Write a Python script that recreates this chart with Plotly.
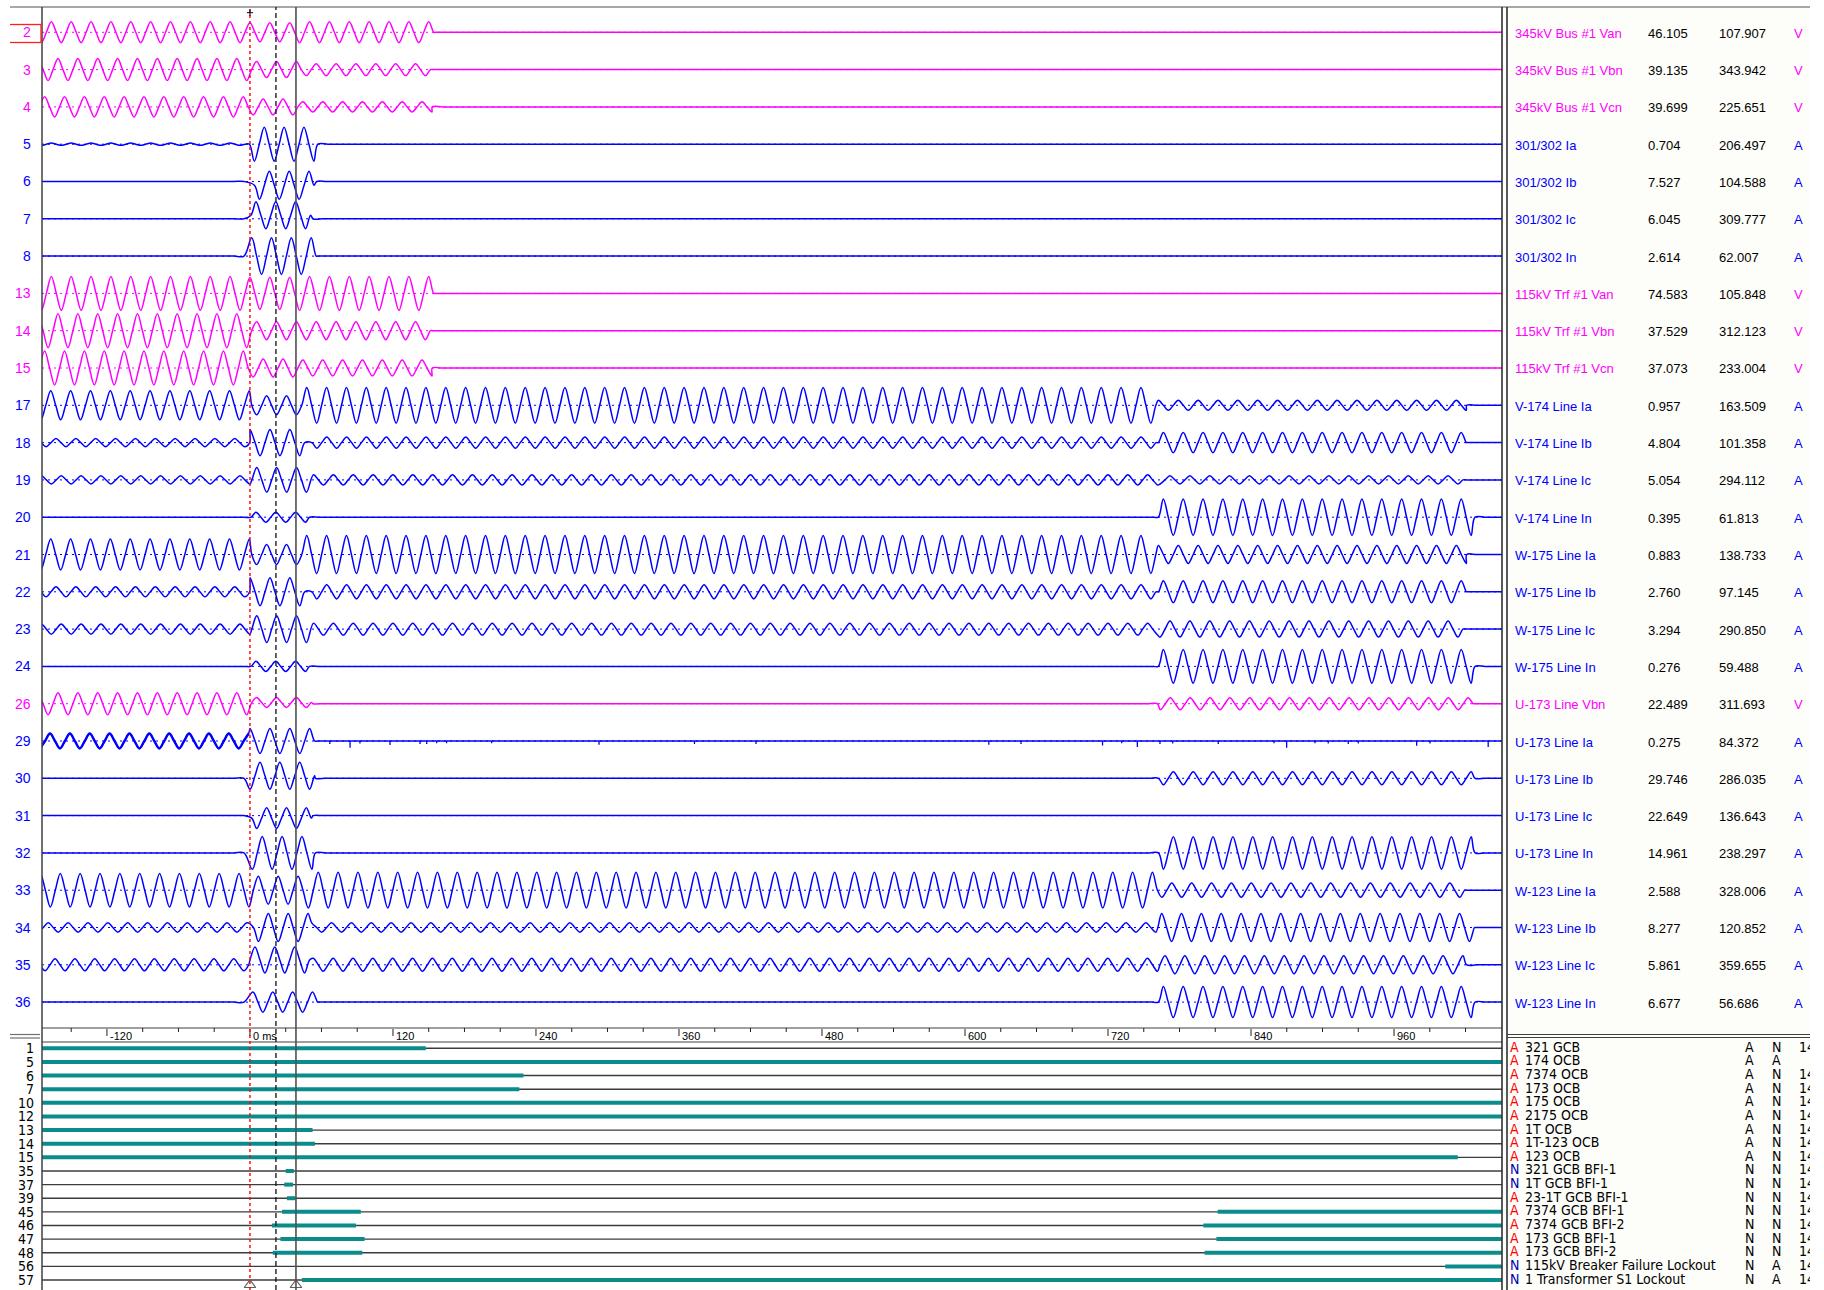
import math
import plotly.graph_objects as go

FIG_W, FIG_H = 1824, 1290
FREQ_HZ = 60.0
T_FIRST, T_LAST = -174.5, 1050.6          # visible record window (ms)

MAGENTA = "#FF00FF"
BLUE = "#0000FF"
TEAL = "#0A8C8C"

# ---------------- analog channels ----------------
chan_numbers = [2, 3, 4, 5, 6, 7, 8, 13, 14, 15, 17, 18, 19, 20, 21, 22, 23, 24,
                26, 29, 30, 31, 32, 33, 34, 35, 36]
chan_names = ["345kV Bus #1 Van", "345kV Bus #1 Vbn", "345kV Bus #1 Vcn",
              "301/302 Ia", "301/302 Ib", "301/302 Ic", "301/302 In",
              "115kV Trf #1 Van", "115kV Trf #1 Vbn", "115kV Trf #1 Vcn",
              "V-174 Line Ia", "V-174 Line Ib", "V-174 Line Ic", "V-174 Line In",
              "W-175 Line Ia", "W-175 Line Ib", "W-175 Line Ic", "W-175 Line In",
              "U-173 Line Vbn", "U-173 Line Ia", "U-173 Line Ib", "U-173 Line Ic",
              "U-173 Line In", "W-123 Line Ia", "W-123 Line Ib", "W-123 Line Ic",
              "W-123 Line In"]
chan_magnitude = ["46.105", "39.135", "39.699", "0.704", "7.527", "6.045", "2.614",
                  "74.583", "37.529", "37.073", "0.957", "4.804", "5.054", "0.395",
                  "0.883", "2.760", "3.294", "0.276", "22.489", "0.275", "29.746",
                  "22.649", "14.961", "2.588", "8.277", "5.861", "6.677"]
chan_angle = ["107.907", "343.942", "225.651", "206.497", "104.588", "309.777", "62.007",
              "105.848", "312.123", "233.004", "163.509", "101.358", "294.112", "61.813",
              "138.733", "97.145", "290.850", "59.488", "311.693", "84.372", "286.035",
              "136.643", "238.297", "328.006", "120.852", "359.655", "56.686"]
chan_units = ["V", "V", "V", "A", "A", "A", "A", "V", "V", "V", "A", "A", "A", "A",
              "A", "A", "A", "A", "V", "A", "A", "A", "A", "A", "A", "A", "A"]

# waveform segments: (from ms, to ms, peak amplitude in channel heights, time of a positive peak ms, offset)
seg_2 = [(-180, 0, .28, 0, 0), (0, 38, .255, 0, 0), (38, 155, .28, 0, 0), (155, 1056, 0, 0, 0)]
seg_3 = [(-180, 0, .295, 5.6, 0), (0, 40, .215, 5.6, 0), (40, 153, .16, 5.6, 0), (153, 1056, 0, 0, 0)]
seg_4 = [(-180, 0, .27, -5.6, 0), (0, 40, .215, -5.6, 0), (40, 153, .135, -5.6, 0), (153, 1056, 0, 0, 0)]
seg_5 = [(-180, -1, .03, 0, 0), (-1, 57, .455, 12, 0), (57, 1056, 0, 0, 0)]
seg_6 = [(-180, 0, 0, 0, 0), (0, 56, .375, -0.4, -.1), (56, 1056, 0, 0, 0)]
seg_7 = [(-180, 0, 0, 0, 0), (0, 53, .36, 5, .095), (53, 1056, 0, 0, 0)]
seg_8 = [(-180, 0, 0, 0, 0), (0, 57, .49, 1.4, 0), (57, 1056, 0, 0, 0)]
seg_13 = [(-180, 0, .455, 0, 0), (0, 40, .43, 0, 0), (40, 156, .455, 0, 0), (156, 1056, 0, 0, 0)]
seg_14 = [(-180, 0, .455, 5.6, 0), (0, 40, .24, 5.6, 0), (40, 153, .24, 5.6, 0), (153, 1056, 0, 0, 0)]
seg_15 = [(-180, 0, .455, -5.6, 0), (0, 40, .24, -5.6, 0), (40, 153, .215, -5.6, 0), (153, 1056, 0, 0, 0)]
seg_17 = [(-180, 0, .39, -0.5, 0), (0, 42, .255, 14, 0), (42, 762, .48, 14.3, 0),
          (762, 1021, .135, 12.3, 0), (1021, 1056, 0, 0, 0)]
seg_18 = [(-180, 0, .11, 3.9, 0), (0, 50, .35, 16.8, 0), (50, 762, .15, 14.4, 0),
          (762, 1021, .27, 766.4, 0), (1021, 1056, 0, 0, 0)]
seg_19 = [(-180, 0, .11, 8.3, 0), (0, 50, .33, 22.4, 0), (50, 762, .135, 3.3, 0),
          (762, 1021, .11, 772, 0), (1021, 1056, 0, 0, 0)]
seg_20 = [(-180, 0, 0, 0, 0), (0, 50, .135, 5, 0), (50, 762, 0, 0, 0),
          (762, 1028, .49, 766.4, 0), (1028, 1056, 0, 0, 0)]
seg_21 = [(-180, 0, .415, -0.5, 0), (0, 42, .27, 14, 0), (42, 762, .51, 14.3, 0),
          (762, 1021, .24, 12.3, 0), (1021, 1056, 0, 0, 0)]
seg_22 = [(-180, 0, .135, 3.9, 0), (0, 50, .375, 16.8, 0), (50, 762, .19, 14.4, 0),
          (762, 1021, .295, 766.4, 0), (1021, 1056, 0, 0, 0)]
seg_23 = [(-180, 0, .135, 8.3, 0), (0, 50, .36, 22.4, 0), (50, 762, .16, 3.3, 0),
          (762, 1021, .215, 772, 0), (1021, 1056, 0, 0, 0)]
seg_24 = [(-180, 0, 0, 0, 0), (0, 50, .135, 5, 0), (50, 762, 0, 0, 0),
          (762, 1028, .45, 766.4, 0), (1028, 1056, 0, 0, 0)]
seg_26 = [(-180, 0, .295, 5.6, 0), (0, 53, .135, 5.6, .03), (53, 762, 0, 0, 0),
          (762, 1028, .16, 5.6, 0), (1028, 1056, 0, 0, 0)]
seg_29 = [(-180, 0, .2, -1.1, 0), (0, 57, .335, 0.1, 0), (57, 1056, 0, 0, 0)]
seg_30 = [(-180, 0, 0, 0, 0), (0, 55, .36, 8.4, .067), (55, 762, 0, 0, 0),
          (762, 1028, .175, 774.8, 0), (1028, 1056, 0, 0, 0)]
seg_31 = [(-180, 0, 0, 0, 0), (0, 53, .28, 14, -.067), (53, 1056, 0, 0, 0)]
seg_32 = [(-180, 0, 0, 0, 0), (0, 55, .44, 10.3, 0), (55, 762, 0, 0, 0),
          (762, 1028, .435, 774.8, 0), (1028, 1056, 0, 0, 0)]
seg_33 = [(-180, 0, .45, 7.5, 0), (0, 45, .375, 7, 0), (45, 762, .48, 7.3, 0),
          (762, 1021, .19, 773.5, 0), (1021, 1056, 0, 0, 0)]
seg_34 = [(-180, 0, .125, 14.1, 0), (0, 50, .375, 15.4, 0), (50, 762, .125, 1.8, 0),
          (762, 1028, .375, 765, 0), (1028, 1056, 0, 0, 0)]
seg_35 = [(-180, 0, .16, 3.1, 0), (0, 52, .35, 4.2, .13), (52, 762, .175, 3.1, 0),
          (762, 1021, .24, 767.8, 0), (1021, 1056, 0, 0, 0)]
seg_36 = [(-180, 0, 0, 0, 0), (0, 57, .27, 2.5, 0), (57, 762, 0, 0, 0),
          (762, 1028, .415, 766.4, 0), (1028, 1056, 0, 0, 0)]

chan_segments = [seg_2, seg_3, seg_4, seg_5, seg_6, seg_7, seg_8, seg_13, seg_14, seg_15,
                 seg_17, seg_18, seg_19, seg_20, seg_21, seg_22, seg_23, seg_24, seg_26,
                 seg_29, seg_30, seg_31, seg_32, seg_33, seg_34, seg_35, seg_36]

# channels whose pre-fault record is noisy and drawn heavier
heavy_prefault = [29]

# single-sample glitches on U-173 Line Ia after the fault (ms, depth in channel heights)
spike_t_29 = [67, 84, 92.3, 117.5, 142.7, 148.3, 156.7, 165, 202.8, 292.9, 373, 424.6,
              620, 647, 715.4, 731.5, 744.6, 763.6, 774.3, 812.5, 859.3, 869.9, 893.7,
              904.8, 921.6, 930, 979, 990.2, 1039]
spike_d_29 = [.08, .18, .07, .11, .08, .08, .06, .06, .06, .1, .08, .08, .1, .08, .12, .06,
              .16, .08, .07, .08, .06, .18, .06, .07, .08, .07, .13, .07, .16]

# ---------------- digital channels ----------------
dig_numbers = ["1", "5", "6", "7", "10", "12", "13", "14", "15", "35", "37", "39",
               "45", "46", "47", "48", "56", "57"]
dig_normal = ["A", "A", "A", "A", "A", "A", "A", "A", "A", "N", "N", "A",
              "A", "A", "A", "A", "N", "N"]
dig_names = ["321 GCB", "174 OCB", "7374 OCB", "173 OCB", "175 OCB", "2175 OCB", "1T OCB",
             "1T-123 OCB", "123 OCB", "321 GCB BFI-1", "1T GCB BFI-1", "23-1T GCB BFI-1",
             "7374 GCB BFI-1", "7374 GCB BFI-2", "173 GCB BFI-1", "173 GCB BFI-2",
             "115kV Breaker Failure Lockout", "1 Transformer S1 Lockout"]
dig_col1 = ["A", "A", "A", "A", "A", "A", "A", "A", "A", "N", "N", "N", "N", "N", "N", "N", "N", "N"]
dig_col2 = ["N", "A", "N", "N", "N", "N", "N", "N", "N", "N", "N", "N", "N", "N", "N", "N", "A", "A"]
dig_col3 = ["14", "", "14", "14", "14", "14", "14", "14", "14", "14", "14", "14",
            "14", "14", "14", "14", "14", "14"]
# intervals (ms) where each contact is picked up
dig_on = [[(T_FIRST, 147.5)], [(T_FIRST, T_LAST)], [(T_FIRST, 229.5)], [(T_FIRST, 226)],
          [(T_FIRST, T_LAST)], [(T_FIRST, T_LAST)], [(T_FIRST, 52.5)], [(T_FIRST, 54.5)],
          [(T_FIRST, 1013.5)], [(30, 36.8)], [(28.8, 36.2)], [(31, 37.8)],
          [(26.9, 93), (812, T_LAST)], [(18.5, 88.9), (800, T_LAST)],
          [(25.6, 96.2), (811, T_LAST)], [(19.2, 94.3), (801, T_LAST)],
          [(1003, T_LAST)], [(43.6, T_LAST)]]

# cursors and time ticks
CURSOR_TRIG, CURSOR_B, CURSOR_C = 0.0, 21.8, 38.6
major_ticks = [-120, 0, 120, 240, 360, 480, 600, 720, 840, 960]
major_labels = ["-120", "0 ms", "120", "240", "360", "480", "600", "720", "840", "960"]
minor_ticks = [t for t in range(-150, 1050, 30) if t % 120 != 0]

# ---------------- screen layout (pixels) ----------------
PLOT_L, PLOT_R = 42, 1502
ANA_TOP, ANA_BOT = 7, 1028
STRIP_BOT = 1042
ROW0, ROW_STEP = 32.3, 37.3
DIG_ROW0, DIG_STEP = 1048.3, 13.63
PANEL_L, PANEL_R = 1507, 1810
SANS = "Liberation Sans, Arial, sans-serif"
NARROW = "Liberation Sans Narrow, DejaVu Sans Condensed, Arial Narrow, sans-serif"


def px(x):
    return x / FIG_W


def py(y):
    return 1 - y / FIG_H


def expand(segments):
    """Quarter-cycle points (peak, zero, trough, zero) for each segment."""
    q = 1000.0 / FREQ_HZ / 4.0
    xs, ys = [], []
    for t0, t1, amp, tpk, off in segments:
        if amp == 0:
            t = t0
            while t < t1:
                xs.append(t)
                ys.append(off)
                t += 2 * q
        else:
            n = math.ceil((t0 - tpk) / q)
            while tpk + n * q < t1:
                xs.append(tpk + n * q)
                ys.append(off + amp * (1, 0, -1, 0)[n % 4])
                n += 1
    xs.append(segments[-1][1])
    ys.append(segments[-1][4])
    return xs, ys


fig = go.Figure()
shapes, annos = [], []

# panel background and frame
shapes.append(dict(type="rect", xref="paper", yref="paper", x0=px(PANEL_L), x1=px(PANEL_R),
                   y0=0, y1=py(ANA_TOP), fillcolor="#FDFDF9", line_width=0, layer="below"))


def hline(y, x0, x1, color="#404040", width=1.0):
    shapes.append(dict(type="line", xref="paper", yref="paper", x0=px(x0), x1=px(x1),
                       y0=py(y), y1=py(y), line=dict(color=color, width=width)))


def vline(x, y0, y1, color="#404040", width=1.0):
    shapes.append(dict(type="line", xref="paper", yref="paper", x0=px(x), x1=px(x),
                       y0=py(y0), y1=py(y1), line=dict(color=color, width=width)))


hline(ANA_TOP, 10, PANEL_R, "#505050", 1.2)
hline(ANA_BOT, PLOT_L, PLOT_R, "#404040", 1.2)
hline(STRIP_BOT, PLOT_L, PLOT_R, "#404040", 1.2)
hline(1034.5, PANEL_L, PANEL_R, "#404040", 1.2)
hline(1037.5, PANEL_L, PANEL_R, "#404040", 1.2)
hline(1034.5, 10, 40, "#707070", 1.2)
hline(1038, 10, 40, "#707070", 1.2)
vline(PLOT_L, ANA_TOP, FIG_H, "#404040", 1.5)
vline(PLOT_R, ANA_TOP, FIG_H, "#303030", 1.6)
vline(PANEL_L, ANA_TOP, FIG_H, "#303030", 1.6)

# selected-channel marker around "2"
hline(24.5, 10, 41, "#FF2020", 1.3)
hline(42.5, 10, 41, "#FF2020", 1.3)
vline(41, 24.5, 42.5, "#FF2020", 1.3)

# analog traces
for k, (num, segs, unit) in enumerate(zip(chan_numbers, chan_segments, chan_units)):
    color = MAGENTA if unit == "V" else BLUE
    shapes.append(dict(type="line", xref="x", yref="y", x0=T_FIRST, x1=T_LAST, y0=-k, y1=-k,
                       line=dict(color=color, width=1, dash="2px,4px"), layer="below"))
    ts, vs = expand(segs)
    fig.add_trace(go.Scatter(x=ts, y=[-k + v for v in vs], mode="lines",
                             line=dict(color=color, width=1.5, shape="spline", smoothing=1.0),
                             hoverinfo="skip", showlegend=False, xaxis="x", yaxis="y"))
    if num in heavy_prefault:
        hs, hv = expand(segs[:1])
        fig.add_trace(go.Scatter(x=hs[:-1], y=[-k + v for v in hv[:-1]], mode="lines",
                                 line=dict(color=color, width=2.4, shape="spline", smoothing=1.0),
                                 hoverinfo="skip", showlegend=False, xaxis="x", yaxis="y"))
    annos.append(dict(x=px(33), xref="paper", y=-k, yref="y", text=str(num), showarrow=False,
                      xanchor="right", yanchor="middle",
                      font=dict(family=SANS, size=14, color=color)))
    annos.append(dict(x=px(1513), xref="paper", y=-k, yref="y", text=chan_names[k],
                      showarrow=False, xanchor="left", yanchor="middle", yshift=-1,
                      font=dict(family=SANS, size=13, color=color)))
    for xpos, txt, c in ((1646, chan_magnitude[k], "#000000"), (1717, chan_angle[k], "#000000"),
                         (1792, unit, color)):
        annos.append(dict(x=px(xpos), xref="paper", y=-k, yref="y", text=txt, showarrow=False,
                          xanchor="left", yanchor="middle", yshift=-1,
                          font=dict(family=SANS, size=13, color=c)))

# glitches on channel 29
k29 = chan_numbers.index(29)
sx, sy = [], []
for t, d in zip(spike_t_29, spike_d_29):
    sx += [t, t, None]
    sy += [-k29, -k29 - d, None]
fig.add_trace(go.Scatter(x=sx, y=sy, mode="lines", line=dict(color=BLUE, width=1.3),
                         hoverinfo="skip", showlegend=False, xaxis="x", yaxis="y"))

# time axis strip
for t in minor_ticks:
    shapes.append(dict(type="line", xref="x", yref="paper", x0=t, x1=t, y0=py(ANA_BOT),
                       y1=py(ANA_BOT + 4), line=dict(color="#202020", width=1)))
for t, lab in zip(major_ticks, major_labels):
    shapes.append(dict(type="line", xref="x", yref="paper", x0=t, x1=t, y0=py(ANA_BOT + 1),
                       y1=py(ANA_BOT + 8), line=dict(color="#202020", width=1)))
    annos.append(dict(x=t, xref="x", y=py(1035.5), yref="paper", text=lab, showarrow=False,
                      xanchor="left", yanchor="middle", xshift=2, borderpad=0,
                      font=dict(family=SANS, size=11, color="#000000")))

# digital rows
bx, by, gx, gy = [], [], [], []
for j, ivals in enumerate(dig_on):
    bx += [T_FIRST, T_LAST, None]
    by += [-j, -j, None]
    for a, b in ivals:
        gx += [a, b, None]
        gy += [-j, -j, None]
    # channel number, left of the plot
    annos.append(dict(x=px(35), xref="paper", y=-j, yref="y2", text=dig_numbers[j],
                      showarrow=False, xanchor="right", yanchor="middle", borderpad=0,
                      font=dict(family=NARROW, size=14, color="#000000")))
fig.add_trace(go.Scatter(x=bx, y=by, mode="lines", line=dict(color="#3C3C3C", width=1.4),
                         hoverinfo="skip", showlegend=False, xaxis="x2", yaxis="y2"))
fig.add_trace(go.Scatter(x=gx, y=gy, mode="lines", line=dict(color=TEAL, width=4),
                         hoverinfo="skip", showlegend=False, xaxis="x2", yaxis="y2"))

rows = [-j for j in range(len(dig_numbers))]
# digital labels panel (clipped at the panel edge)
label_cols = [
    (1510, dig_normal, ["#FF0000" if s == "A" else "#0000B0" for s in dig_normal]),
    (1525, dig_names, ["#000000"] * len(rows)),
    (1745, dig_col1, ["#000000"] * len(rows)),
    (1772, dig_col2, ["#000000"] * len(rows)),
    (1799, dig_col3, ["#000000"] * len(rows)),
]
for xpos, texts, colors in label_cols:
    fig.add_trace(go.Scatter(x=[xpos] * len(rows), y=rows, mode="text", text=texts,
                             textposition="middle right", cliponaxis=True,
                             textfont=dict(family=NARROW, size=14, color=colors),
                             hoverinfo="skip", showlegend=False, xaxis="x3", yaxis="y3"))

# cursors
for t, color, dash, w in ((CURSOR_TRIG, "#FF0000", "3px,3px", 1.4),
                          (CURSOR_B, "#202020", "5px,3px", 1.4),
                          (CURSOR_C, "#505050", "solid", 1.6)):
    shapes.append(dict(type="line", xref="x", yref="paper", x0=t, x1=t, y0=0, y1=py(ANA_TOP),
                       line=dict(color=color, width=w, dash=dash), layer="above"))
# trigger mark at top
shapes.append(dict(type="line", xref="x", yref="paper", x0=CURSOR_TRIG - 2.5, x1=CURSOR_TRIG + 2.5,
                   y0=py(12.7), y1=py(12.7), line=dict(color="#000000", width=1)))
shapes.append(dict(type="line", xref="x", yref="paper", x0=CURSOR_TRIG, x1=CURSOR_TRIG,
                   y0=py(9.5), y1=py(16), line=dict(color="#000000", width=1)))
fig.add_trace(go.Scatter(x=[CURSOR_TRIG, CURSOR_C], y=[-(1285 - DIG_ROW0) / DIG_STEP] * 2,
                         mode="markers", cliponaxis=False,
                         marker=dict(symbol="triangle-up-open", size=10, color="#606060",
                                     line=dict(width=1.2)),
                         hoverinfo="skip", showlegend=False, xaxis="x2", yaxis="y2"))

ana_range = [-(ANA_BOT - ROW0) / ROW_STEP, (ROW0 - ANA_TOP) / ROW_STEP]
dig_range = [-(FIG_H - DIG_ROW0) / DIG_STEP, (DIG_ROW0 - STRIP_BOT) / DIG_STEP]
fig.update_layout(
    width=FIG_W, height=FIG_H, margin=dict(l=0, r=0, t=0, b=0),
    paper_bgcolor="#FFFFFF", plot_bgcolor="rgba(0,0,0,0)", showlegend=False,
    xaxis=dict(domain=[px(PLOT_L), px(PLOT_R)], range=[T_FIRST, T_LAST], visible=False, anchor="y"),
    yaxis=dict(domain=[py(ANA_BOT), py(ANA_TOP)], range=ana_range, visible=False, anchor="x"),
    xaxis2=dict(domain=[px(PLOT_L), px(PLOT_R)], range=[T_FIRST, T_LAST], visible=False, anchor="y2"),
    yaxis2=dict(domain=[0, py(STRIP_BOT)], range=dig_range, visible=False, anchor="x2"),
    xaxis3=dict(domain=[px(PANEL_L), px(PANEL_R)], range=[PANEL_L, PANEL_R], visible=False, anchor="y3"),
    yaxis3=dict(domain=[0, py(STRIP_BOT)], range=dig_range, visible=False, anchor="x3"),
    shapes=shapes, annotations=annos,
)

fig.write_html("out.html")
